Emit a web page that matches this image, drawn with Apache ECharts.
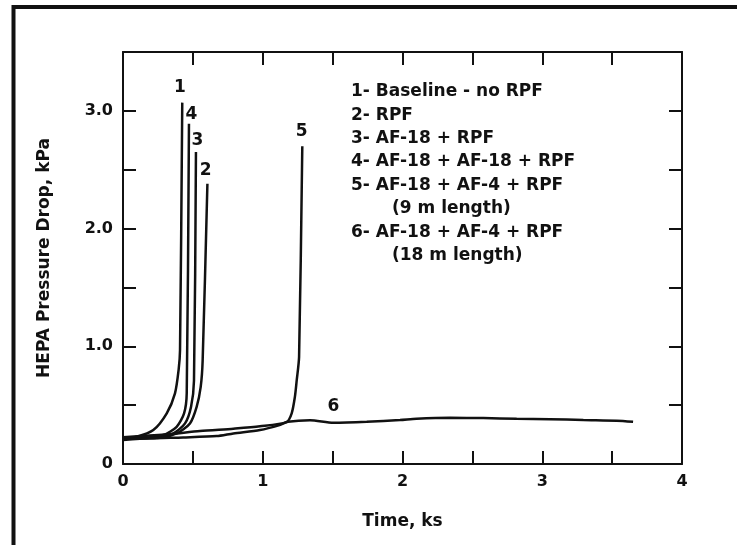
<!DOCTYPE html>
<html>
<head>
<meta charset="utf-8">
<script src="https://cdn.jsdelivr.net/npm/echarts@6/dist/echarts.min.js"></script>
<style>
  html, body { margin: 0; padding: 0; background: #fff; }
  #main { width: 737px; height: 545px; }
</style>
</head>
<body>
<div id="main"></div>
<script>
// tick labels
const xTickValues = [0, 1, 2, 3, 4];
const xTickLabels = ['0', '1', '2', '3', '4'];
const yTickValues = [0, 1, 2, 3];
const yTickLabels = ['0', '1.0', '2.0', '3.0'];

// curves: [time ks, pressure drop kPa]
const curve1 = [[0, 0.218], [0.098, 0.231], [0.217, 0.288], [0.313, 0.43], [0.372, 0.60], [0.398, 0.80], [0.408, 0.966], [0.424, 3.07]];
const curve2 = [[0, 0.218], [0.265, 0.223], [0.384, 0.26], [0.479, 0.345], [0.527, 0.486], [0.556, 0.655], [0.570, 0.88], [0.604, 2.38]];
const curve3 = [[0, 0.218], [0.241, 0.223], [0.36, 0.26], [0.444, 0.345], [0.487, 0.486], [0.508, 0.71], [0.522, 2.65]];
const curve4 = [[0, 0.218], [0.145, 0.222], [0.289, 0.246], [0.384, 0.316], [0.437, 0.43], [0.456, 0.60], [0.472, 2.89]];
const curve5 = [[0, 0.228], [0.3, 0.25], [0.551, 0.28], [0.79, 0.30], [0.98, 0.32], [1.17, 0.356], [1.207, 0.43], [1.23, 0.57], [1.243, 0.71], [1.26, 0.91], [1.283, 2.70]];
const curve6 = [[0, 0.203], [0.193, 0.218], [0.43, 0.226], [0.67, 0.237], [0.79, 0.26], [0.98, 0.288], [1.12, 0.33], [1.18, 0.358], [1.338, 0.372], [1.505, 0.35], [1.744, 0.358], [1.982, 0.373], [2.10, 0.384], [2.34, 0.392], [2.578, 0.39], [2.817, 0.384], [3.055, 0.381], [3.294, 0.373], [3.533, 0.367], [3.65, 0.358]];

const curves = [curve1, curve2, curve3, curve4, curve5, curve6];
const curveNames = ['1', '2', '3', '4', '5', '6'];
// where the curve numbers sit, in data units
const curveLabelX = [0.408, 0.592, 0.532, 0.49, 1.278, 1.505];
const curveLabelY = [3.20, 2.49, 2.75, 2.97, 2.82, 0.486];

const legendLines = [
  '1- Baseline - no RPF',
  '2- RPF',
  '3- AF-18 + RPF',
  '4- AF-18 + AF-18 + RPF',
  '5- AF-18 + AF-4 + RPF',
  '(9 m length)',
  '6- AF-18 + AF-4 + RPF',
  '(18 m length)'
];

const font = 'DejaVu Sans';

function pickLabel(values, labels) {
  return function (v) {
    const i = values.indexOf(v);
    return i >= 0 ? labels[i] : '';
  };
}

let series = [];
for (let i = 0; i < curves.length; i++) {
  series.push({
    name: curveNames[i],
    type: 'line',
    data: curves[i],
    showSymbol: false,
    smooth: 0.25,
    lineStyle: { color: '#111', width: 2.5 },
    z: 3
  });
}
let labelData = [];
for (let i = 0; i < curveNames.length; i++) {
  labelData.push([curveLabelX[i], curveLabelY[i], i]);
}
// curve numbers, placed through the axes
series.push({
  type: 'custom',
  data: labelData,
  renderItem: function (params, api) {
    const p = api.coord([api.value(0), api.value(1)]);
    return {
      type: 'text',
      x: p[0],
      y: p[1],
      style: {
        text: curveNames[api.value(2)],
        fill: '#111',
        font: 'bold 17px "' + font + '"',
        textAlign: 'center',
        textVerticalAlign: 'middle'
      }
    };
  },
  z: 4
});

let graphics = [{
  type: 'rect',
  shape: { x: 13.5, y: 7, width: 760, height: 580 },
  style: { fill: 'none', stroke: '#111', lineWidth: 4 },
  silent: true
}];
for (let i = 0; i < legendLines.length; i++) {
  const indent = legendLines[i].charAt(0) === '(' ? 41 : 0;
  graphics.push({
    type: 'text',
    x: 351 + indent,
    y: 91.7 + 23.4 * i,
    style: {
      text: legendLines[i],
      fill: '#111',
      font: 'bold 17px "' + font + '"',
      textVerticalAlign: 'middle'
    }
  });
}

const axisLineStyle = { show: true, onZero: false, lineStyle: { color: '#111', width: 2 } };
const tickStyle = { show: true, inside: true, length: 13, lineStyle: { color: '#111', width: 2 } };
const labelStyle = { color: '#111', fontFamily: font, fontWeight: 'bold', fontSize: 16 };

let options = {
  animation: false,
  backgroundColor: '#fff',
  grid: { left: 123, right: 55, top: 52, bottom: 81 },
  xAxis: [{
    type: 'value',
    min: 0, max: 4, interval: 0.5,
    name: 'Time, ks',
    nameLocation: 'middle',
    nameGap: 49,
    nameTextStyle: { color: '#111', fontFamily: font, fontWeight: 'bold', fontSize: 17 },
    axisLine: axisLineStyle,
    axisTick: tickStyle,
    axisLabel: Object.assign({ margin: 10, formatter: pickLabel(xTickValues, xTickLabels) }, labelStyle),
    splitLine: { show: false }
  }, {
    type: 'value',
    position: 'top',
    min: 0, max: 4, interval: 0.5,
    axisLine: axisLineStyle,
    axisTick: tickStyle,
    axisLabel: { show: false },
    splitLine: { show: false }
  }],
  yAxis: [{
    type: 'value',
    min: 0, max: 3.5, interval: 0.5,
    name: 'HEPA Pressure Drop, kPa',
    nameLocation: 'middle',
    nameGap: 70,
    nameTextStyle: { color: '#111', fontFamily: font, fontWeight: 'bold', fontSize: 17 },
    axisLine: axisLineStyle,
    axisTick: tickStyle,
    axisLabel: Object.assign({ margin: 10, formatter: pickLabel(yTickValues, yTickLabels) }, labelStyle),
    splitLine: { show: false }
  }, {
    type: 'value',
    position: 'right',
    min: 0, max: 3.5, interval: 0.5,
    axisLine: axisLineStyle,
    axisTick: tickStyle,
    axisLabel: { show: false },
    splitLine: { show: false }
  }],
  graphic: graphics,
  series: series
};

let chart = echarts.init(document.getElementById('main'));
chart.setOption(options);
</script>
</body>
</html>
